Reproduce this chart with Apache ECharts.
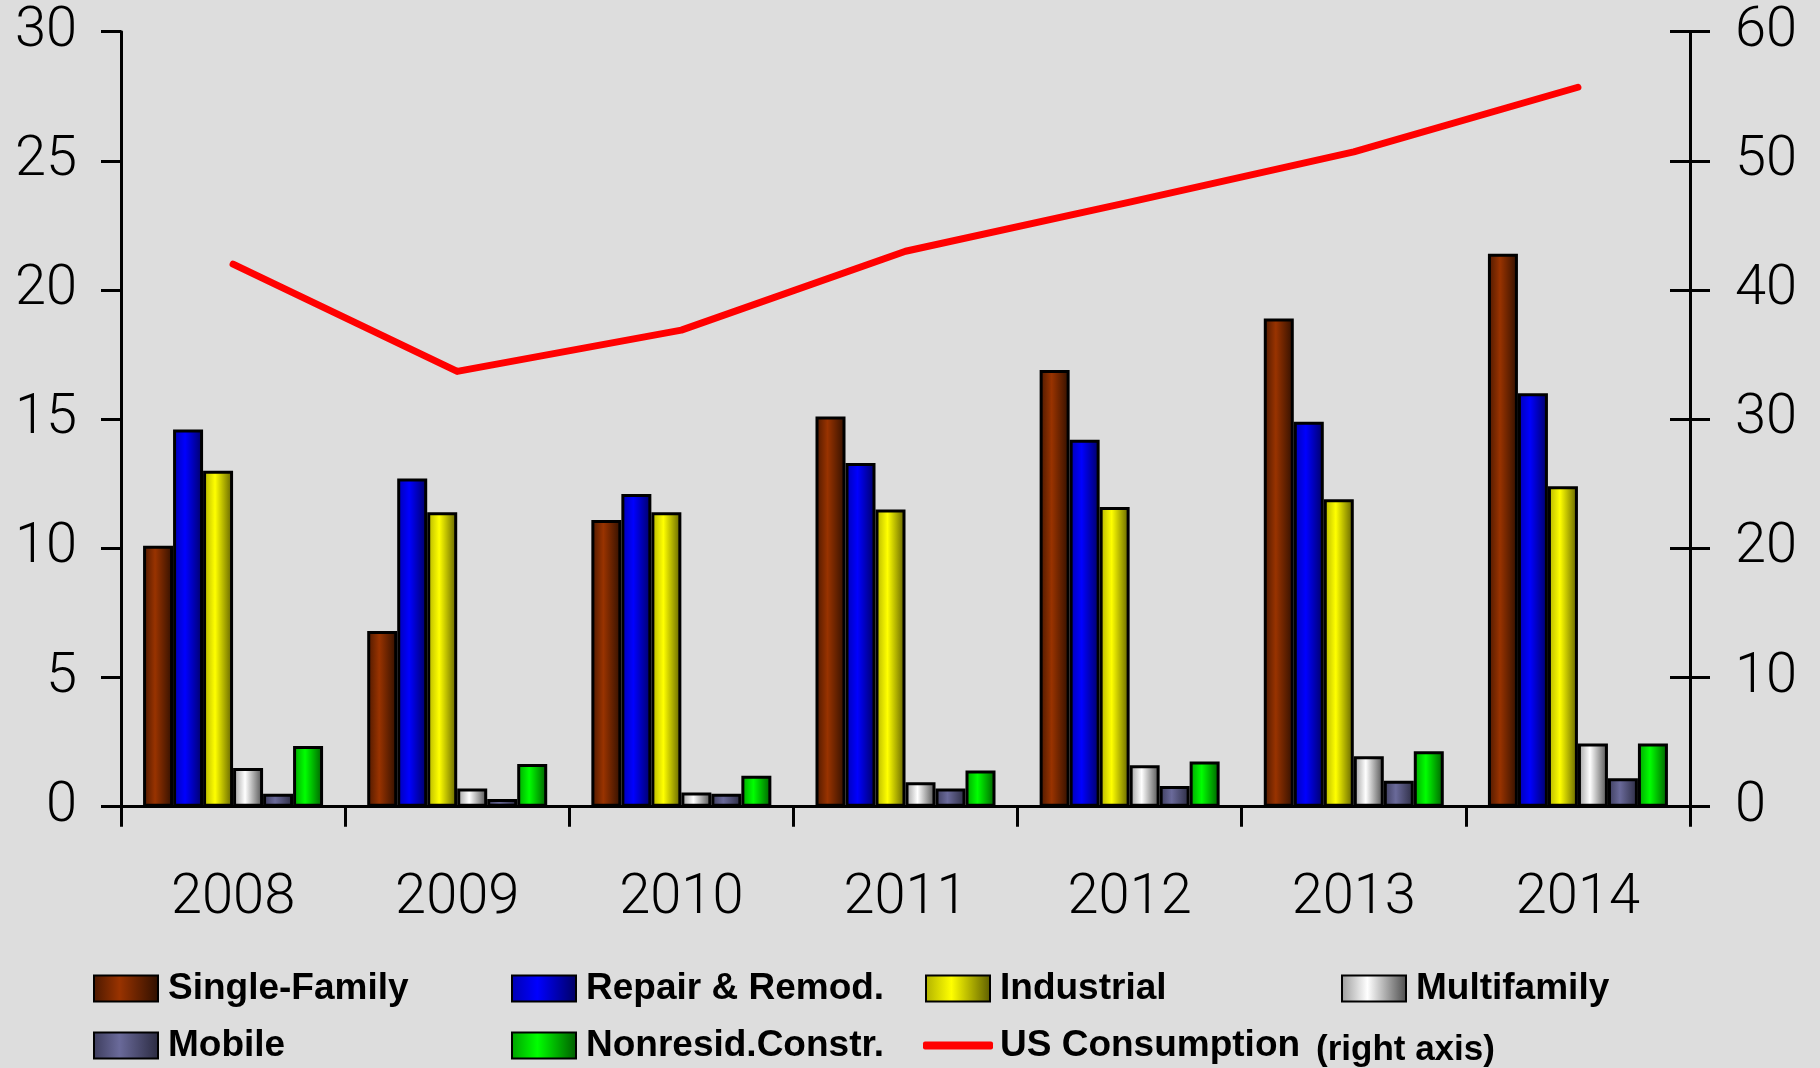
<!DOCTYPE html>
<html>
<head>
<meta charset="utf-8">
<title>Consumption by end use, 2008-2014</title>
<script src="https://cdn.jsdelivr.net/npm/echarts@6/dist/echarts.min.js"></script>
<style>
  html, body { margin: 0; padding: 0; background: #dddddd; }
  #chart { width: 1820px; height: 1068px; }
</style>
</head>
<body>
<div id="chart"></div>
<script>
// Categories and values
var years = ['2008', '2009', '2010', '2011', '2012', '2013', '2014'];
var singleFamily = [10.1, 6.8, 11.1, 15.1, 16.9, 18.9, 21.4];
var repairRemod = [14.6, 12.7, 12.1, 13.3, 14.2, 14.9, 16.0];
var industrial = [13.0, 11.4, 11.4, 11.5, 11.6, 11.9, 12.4];
var multifamily = [1.5, 0.7, 0.55, 0.95, 1.6, 1.95, 2.45];
var mobile = [0.5, 0.3, 0.5, 0.7, 0.8, 1.0, 1.1];
var nonresid = [2.35, 1.65, 1.2, 1.4, 1.75, 2.15, 2.45];
var usConsumption = [42.0, 33.7, 36.9, 43.0, 46.8, 50.7, 55.7];

// Axis scales
var leftMax = 30, leftStep = 5;
var rightMax = 60, rightStep = 10;

var tickFont = 'Roboto, "Liberation Sans", sans-serif';
var legendFont = '"Liberation Sans", Arial, sans-serif';

// Horizontal shading for the bars: mid-dark edge, bright core, dark far edge
function shade(edge, core, far) {
  return new echarts.graphic.LinearGradient(0, 0, 1, 0, [
    { offset: 0, color: edge },
    { offset: 0.4, color: core },
    { offset: 1, color: far }
  ]);
}

var barSeries = [
  { name: 'Single-Family', data: singleFamily, fill: shade('#4a1800', '#993300', '#2e0f00') },
  { name: 'Repair & Remod.', data: repairRemod, fill: shade('#0000b0', '#0000ff', '#000060') },
  { name: 'Industrial', data: industrial, fill: shade('#b0b000', '#ffff00', '#5c5c00') },
  { name: 'Multifamily', data: multifamily, fill: shade('#9a9a9a', '#ffffff', '#4a4a4a') },
  { name: 'Mobile', data: mobile, fill: shade('#3c3c5c', '#6a6a9a', '#2a2a40') },
  { name: 'Nonresid.Constr.', data: nonresid, fill: shade('#00a000', '#00ff00', '#005a00') }
].map(function (s) {
  return {
    name: s.name,
    type: 'bar',
    data: s.data,
    barWidth: 30,
    barGap: '0%',
    itemStyle: { color: s.fill, borderColor: '#000', borderWidth: 3 },
    emphasis: { disabled: true }
  };
});

var lineSeries = {
  name: 'US Consumption',
  type: 'line',
  yAxisIndex: 1,
  data: usConsumption,
  showSymbol: false,
  symbol: 'none',
  z: 5,
  itemStyle: { color: '#ff0000' },
  lineStyle: { color: '#ff0000', width: 7, cap: 'round', join: 'round' },
  emphasis: { disabled: true }
};

// One legend block per entry so the entries sit on a fixed grid
function legendAt(name, left, top, extra) {
  var lg = {
    data: [name],
    left: left,
    top: top,
    padding: 0,
    icon: 'rect',
    itemWidth: 64,
    itemHeight: 26,
    selectedMode: false,
    textStyle: { fontFamily: legendFont, fontWeight: 'bold', fontSize: 37, color: '#000', padding: [0, 0, 0, 5] }
  };
  if (extra) { for (var k in extra) lg[k] = extra[k]; }
  return lg;
}

var axisLine = { show: true, lineStyle: { color: '#000', width: 3 } };

var option = {
  backgroundColor: '#dddddd',
  animation: false,
  grid: { left: 121, right: 130, top: 31.7, bottom: 261.3 },
  xAxis: {
    type: 'category',
    data: years,
    axisLine: axisLine,
    axisTick: { show: true, length: 20, lineStyle: { color: '#000', width: 3 } },
    axisLabel: { margin: 64, fontFamily: tickFont, fontWeight: 300, fontSize: 56, color: '#000' }
  },
  yAxis: [
    {
      type: 'value', position: 'left', min: 0, max: leftMax, interval: leftStep,
      axisLine: axisLine,
      axisTick: { show: true, length: 20, lineStyle: { color: '#000', width: 3 } },
      splitLine: { show: false },
      axisLabel: { margin: 44, fontFamily: tickFont, fontWeight: 300, fontSize: 56, color: '#000' }
    },
    {
      type: 'value', position: 'right', min: 0, max: rightMax, interval: rightStep,
      axisLine: axisLine,
      axisTick: { show: true, length: 20, lineStyle: { color: '#000', width: 3 } },
      splitLine: { show: false },
      axisLabel: { margin: 45, fontFamily: tickFont, fontWeight: 300, fontSize: 56, color: '#000' }
    },
    {
      // inner half of the right axis cross ticks
      type: 'value', position: 'right', min: 0, max: rightMax, interval: rightStep,
      axisLine: { show: false },
      axisTick: { show: true, inside: true, length: 20, lineStyle: { color: '#000', width: 3 } },
      splitLine: { show: false },
      axisLabel: { show: false }
    }
  ],
  legend: [
    legendAt('Single-Family', 93, 970),
    legendAt('Repair & Remod.', 511, 970),
    legendAt('Industrial', 925, 970),
    legendAt('Multifamily', 1341, 970),
    legendAt('Mobile', 93, 1027),
    legendAt('Nonresid.Constr.', 511, 1027),
    legendAt('US Consumption', 923, 1027, {
      icon: 'roundRect', itemWidth: 70, itemHeight: 8,
      itemStyle: { color: '#ff0000', borderWidth: 0 },
      textStyle: { fontFamily: legendFont, fontWeight: 'bold', fontSize: 37, color: '#000', padding: [0, 0, 0, 2] }
    })
  ],
  graphic: [
    {
      type: 'text', left: 1316, top: 1033,
      style: { text: '(right axis)', fontFamily: legendFont, fontWeight: 'bold', fontSize: 35, fill: '#000' }
    }
  ],
  series: barSeries.concat([lineSeries])
};

var chart = echarts.init(document.getElementById('chart'), null, { renderer: 'canvas' });
chart.setOption(option);
</script>
</body>
</html>
